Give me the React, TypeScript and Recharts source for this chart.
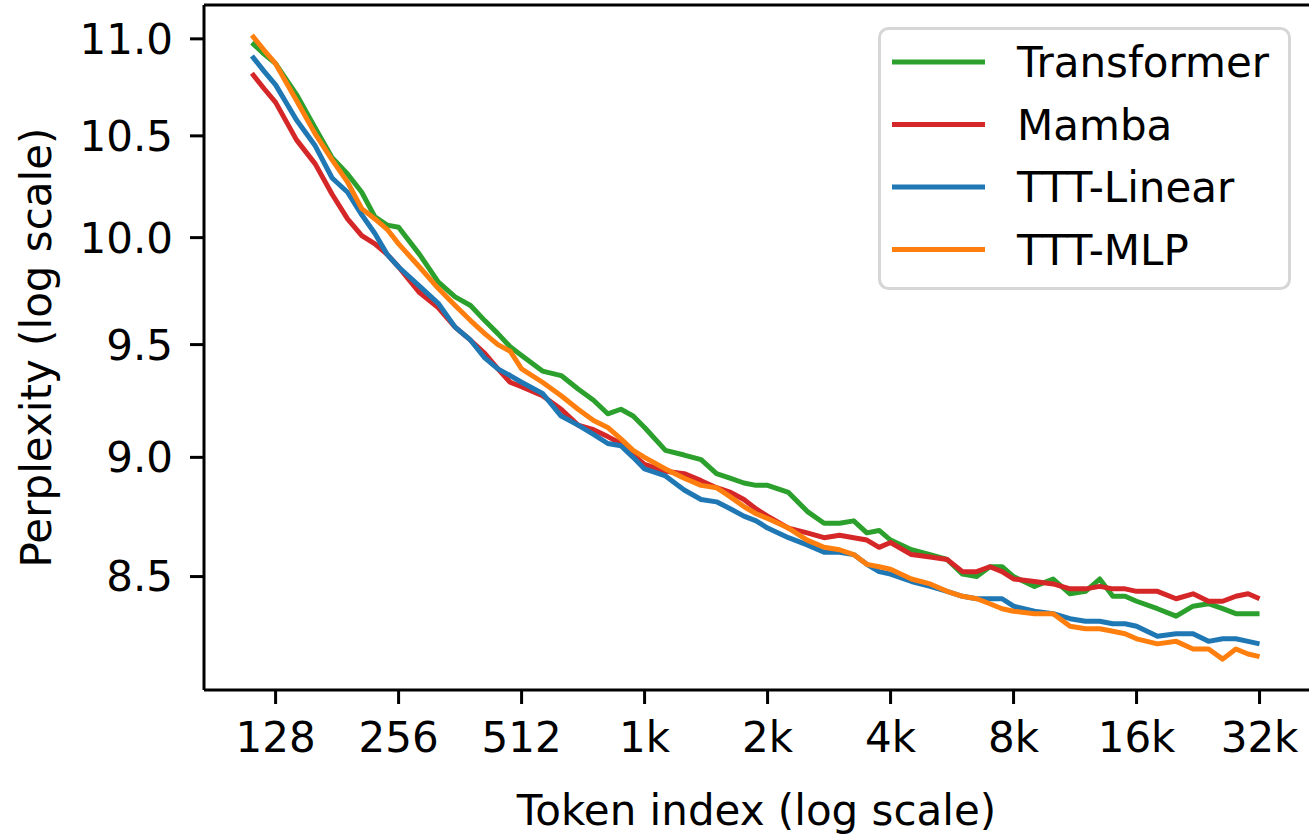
import React from 'react';
import { LineChart, Line, XAxis, YAxis, Label, ReferenceLine } from 'recharts';

// token index (log-spaced samples) and perplexity per model
const tokens = [
  112, 120, 128, 144, 160, 176, 192, 208, 224, 240, 256,
  288, 320, 352, 384, 416, 448, 480, 512,
  576, 640, 704, 768, 832, 896, 960, 1024,
  1152, 1280, 1408, 1536, 1664, 1792, 1920, 2048,
  2304, 2560, 2816, 3072, 3328, 3584, 3840, 4096,
  4608, 5120, 5632, 6144, 6656, 7168, 7680, 8192,
  9216, 10240, 11264, 12288, 13312, 14336, 15360, 16384,
  18432, 20480, 22528, 24576, 26624, 28672, 30720, 32768,
];

const transformer = [
  10.98, 10.92, 10.87, 10.71, 10.54, 10.39, 10.31, 10.22, 10.10, 10.06, 10.05,
  9.92, 9.79, 9.72, 9.68, 9.61, 9.55, 9.49, 9.45,
  9.38, 9.36, 9.30, 9.25, 9.19, 9.21, 9.18, 9.13,
  9.03, 9.01, 8.99, 8.93, 8.91, 8.89, 8.88, 8.88,
  8.85, 8.77, 8.72, 8.72, 8.73, 8.68, 8.69, 8.65,
  8.61, 8.59, 8.57, 8.51, 8.50, 8.54, 8.54, 8.50,
  8.46, 8.49, 8.43, 8.44, 8.49, 8.42, 8.42, 8.40,
  8.37, 8.34, 8.38, 8.39, 8.37, 8.35, 8.35, 8.35,
];

const mamba = [
  10.82, 10.74, 10.67, 10.48, 10.36, 10.21, 10.09, 10.01, 9.97, 9.92, 9.86,
  9.74, 9.67, 9.58, 9.52, 9.46, 9.39, 9.33, 9.31,
  9.27, 9.21, 9.14, 9.12, 9.09, 9.06, 9.01, 8.97,
  8.94, 8.93, 8.90, 8.87, 8.85, 8.82, 8.78, 8.75,
  8.70, 8.68, 8.66, 8.67, 8.66, 8.65, 8.62, 8.64,
  8.59, 8.58, 8.57, 8.52, 8.52, 8.54, 8.52, 8.49,
  8.48, 8.47, 8.45, 8.45, 8.46, 8.45, 8.45, 8.44,
  8.44, 8.41, 8.43, 8.40, 8.40, 8.42, 8.43, 8.41,
];

const tttLinear = [
  10.91, 10.83, 10.76, 10.58, 10.45, 10.29, 10.22, 10.11, 10.02, 9.92, 9.86,
  9.77, 9.69, 9.58, 9.52, 9.44, 9.39, 9.36, 9.33,
  9.28, 9.18, 9.14, 9.10, 9.06, 9.05, 9.00, 8.95,
  8.92, 8.86, 8.82, 8.81, 8.78, 8.75, 8.73, 8.70,
  8.66, 8.63, 8.60, 8.60, 8.59, 8.55, 8.52, 8.51,
  8.48, 8.46, 8.44, 8.42, 8.41, 8.41, 8.41, 8.38,
  8.36, 8.35, 8.33, 8.32, 8.32, 8.31, 8.31, 8.30,
  8.26, 8.27, 8.27, 8.24, 8.25, 8.25, 8.24, 8.23,
];

const tttMlp = [
  11.02, 10.94, 10.87, 10.68, 10.51, 10.38, 10.27, 10.14, 10.09, 10.04, 9.97,
  9.86, 9.76, 9.68, 9.61, 9.55, 9.50, 9.47, 9.39,
  9.33, 9.27, 9.21, 9.16, 9.13, 9.08, 9.03, 9.00,
  8.95, 8.91, 8.88, 8.87, 8.83, 8.79, 8.76, 8.74,
  8.70, 8.65, 8.62, 8.61, 8.59, 8.55, 8.54, 8.53,
  8.49, 8.47, 8.44, 8.42, 8.41, 8.39, 8.37, 8.36,
  8.35, 8.35, 8.30, 8.29, 8.29, 8.28, 8.27, 8.25,
  8.23, 8.24, 8.21, 8.21, 8.17, 8.21, 8.19, 8.18,
];

const xTicks = [128, 256, 512, 1024, 2048, 4096, 8192, 16384, 32768];
const yTicks = [8.5, 9.0, 9.5, 10.0, 10.5, 11.0];
const xDomain: [number, number] = [85.5, 43300];
const yDomain: [number, number] = [8.05, 11.18];

const series = [
  { key: 'transformer', name: 'Transformer', color: '#2ca02c' },
  { key: 'mamba', name: 'Mamba', color: '#d62728' },
  { key: 'tttLinear', name: 'TTT-Linear', color: '#1f77b4' },
  { key: 'tttMlp', name: 'TTT-MLP', color: '#ff7f0e' },
];

const data = tokens.map((t, i) => ({
  t,
  transformer: transformer[i],
  mamba: mamba[i],
  tttLinear: tttLinear[i],
  tttMlp: tttMlp[i],
}));

const FONT = 'DejaVu Sans';
const FS = 42;

const formatToken = (t: number) => (t >= 1024 ? `${t / 1024}k` : `${t}`);

const YTitle = (props: any) => {
  const vb = props.viewBox || { x: 0, y: 5, width: 204, height: 685 };
  const cx = 51;
  const cy = vb.y + vb.height / 2;
  return (
    <text x={cx} y={cy} transform={`rotate(-90, ${cx}, ${cy})`} textAnchor="middle"
      fontSize={FS} fontFamily={FONT} fill="#000">
      Perplexity (log scale)
    </text>
  );
};

const XTitle = (props: any) => {
  const vb = props.viewBox || { x: 204, y: 690, width: 1105, height: 144 };
  return (
    <text x={vb.x + vb.width / 2} y={825} textAnchor="middle" fontSize={FS} fontFamily={FONT} fill="#000">
      Token index (log scale)
    </text>
  );
};

// matplotlib-style legend box, laid over the plot's upper right corner
const LegendBox = () => (
  <svg width={413} height={263} style={{ position: 'absolute', left: 878, top: 27, display: 'block' }}>
    <rect x={1.5} y={1.5} width={410} height={260} rx={9} ry={9}
      fill="rgba(255,255,255,0.85)" stroke="#d6d6d6" strokeWidth={3} />
    {series.map((s, i) => {
      const cy = 35 + i * 62.5;
      return (
        <g key={s.key}>
          <line x1={14} x2={107} y1={cy} y2={cy} stroke={s.color} strokeWidth={5} />
          <text x={139} y={cy + 15} fontSize={FS} fontFamily={FONT} fill="#000">{s.name}</text>
        </g>
      );
    })}
  </svg>
);

export default function App() {
  return (
    <div style={{ position: 'absolute', left: 0, top: 0, width: 1309, height: 834, background: '#fff' }}>
      <LineChart width={1309} height={834} data={data}
        margin={{ top: 5, right: 0, bottom: 0, left: 0 }} style={{ fontFamily: FONT }}>
        <XAxis
          dataKey="t"
          type="number"
          scale="log"
          domain={xDomain}
          allowDataOverflow
          ticks={xTicks}
          interval={0}
          tickFormatter={formatToken}
          height={144}
          tickSize={14}
          tickMargin={18}
          axisLine={{ stroke: '#000', strokeWidth: 3 }}
          tickLine={{ stroke: '#000', strokeWidth: 3 }}
          tick={{ fill: '#000', fontSize: FS, fontFamily: FONT }}
        >
          <Label content={XTitle} />
        </XAxis>
        <YAxis
          type="number"
          scale="log"
          domain={yDomain}
          allowDataOverflow
          ticks={yTicks}
          interval={0}
          tickFormatter={(v: number) => v.toFixed(1)}
          width={204}
          tickSize={14}
          tickMargin={17}
          axisLine={{ stroke: '#000', strokeWidth: 3 }}
          tickLine={{ stroke: '#000', strokeWidth: 3 }}
          tick={{ fill: '#000', fontSize: FS, fontFamily: FONT }}
        >
          <Label content={YTitle} />
        </YAxis>
        {/* top spine */}
        <ReferenceLine y={yDomain[1]} stroke="#000" strokeWidth={3} ifOverflow="visible" />
        {series.map((s) => (
          <Line
            key={s.key}
            name={s.name}
            dataKey={s.key}
            type="linear"
            stroke={s.color}
            strokeWidth={5}
            strokeLinejoin="round"
            dot={false}
            activeDot={false}
            isAnimationActive={false}
          />
        ))}
      </LineChart>
      <LegendBox />
    </div>
  );
}
